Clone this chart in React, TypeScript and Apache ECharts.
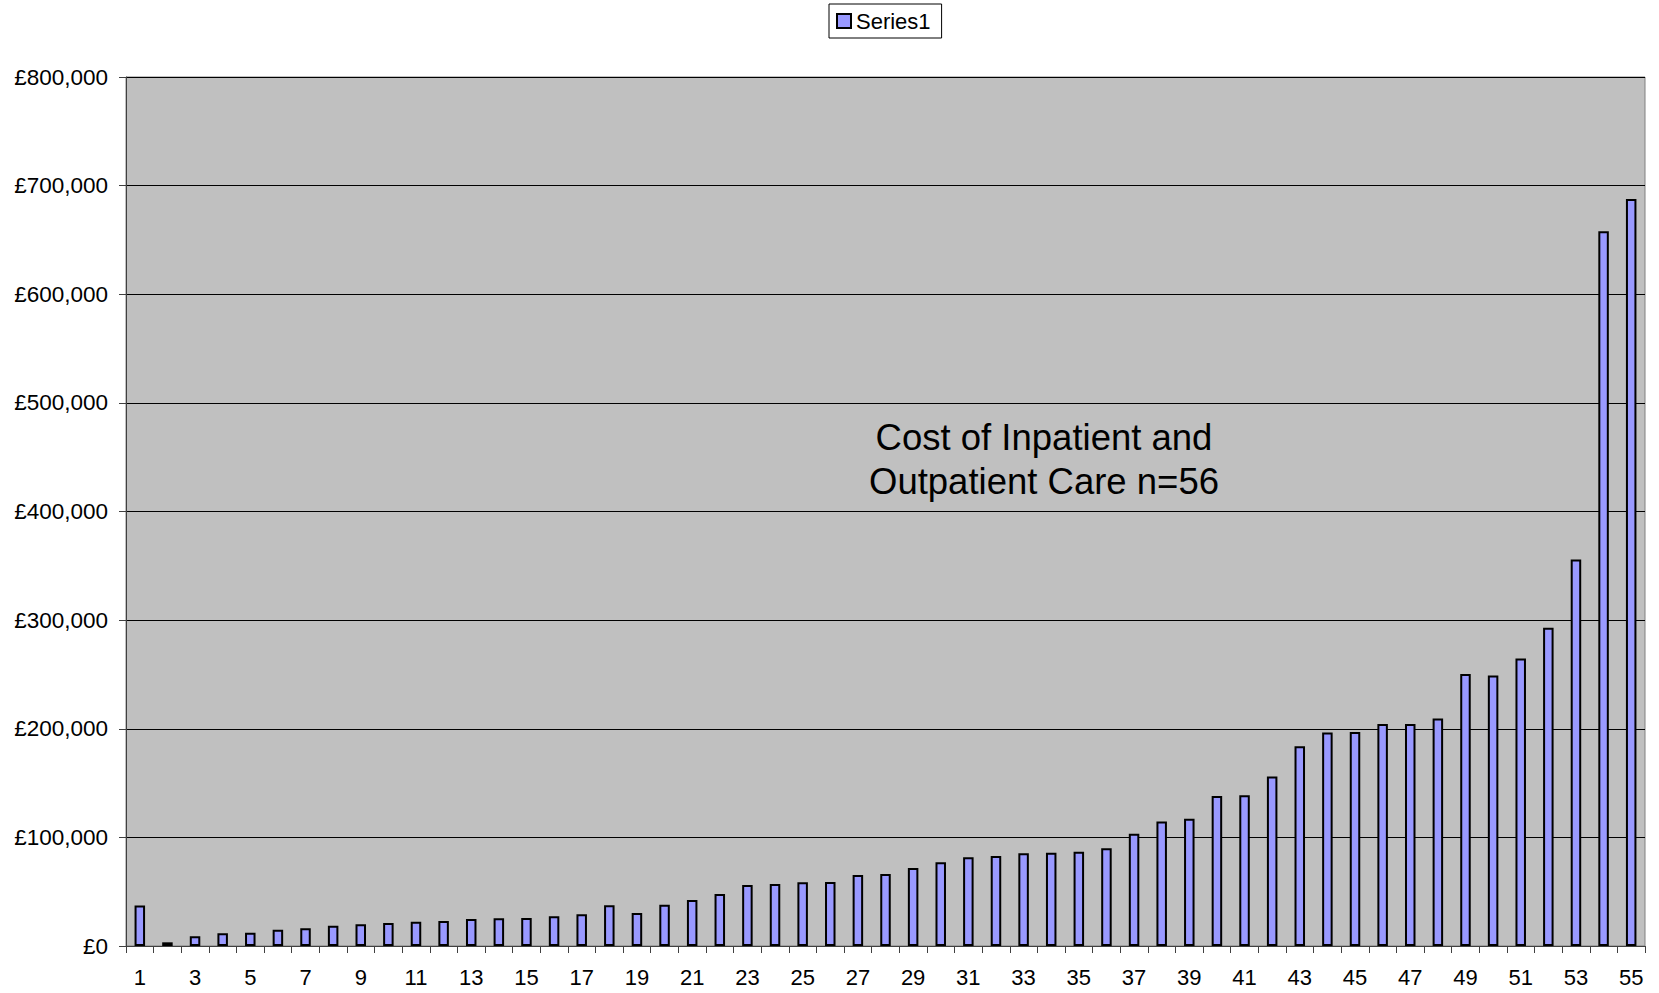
import React, { useEffect, useRef } from "react";
import * as echarts from "echarts";

const categories: string[] = [
  "1","2","3","4","5","6","7","8","9","10","11","12","13","14","15","16","17","18","19","20",
  "21","22","23","24","25","26","27","28","29","30","31","32","33","34","35","36","37","38","39","40",
  "41","42","43","44","45","46","47","48","49","50","51","52","53","54","55",
];

const series1: number[] = [
  37200, 3400, 8900, 11700, 12300, 15000, 16300, 18700, 20000, 21200,
  22400, 23000, 24900, 25500, 25800, 27300, 29200, 37500, 30400, 38000,
  42400, 47900, 56200, 57100, 58600, 58900, 65400, 66300, 71800, 77000,
  81600, 82800, 85300, 85900, 86800, 89900, 103400, 114700, 117200, 138200,
  138800, 156000, 183900, 196500, 197000, 204400, 204400, 209400, 250500, 249000,
  264700, 292900, 355800, 657900, 687600,
];

const seriesName = "Series1";
const annotation = "Cost of Inpatient and\nOutpatient Care n=56";
const yMax = 800000;
const yStep = 100000;

const FONT = "'Liberation Sans', Arial, Helvetica, sans-serif";

function fmtPounds(v: number): string {
  const s = Math.round(v).toString();
  return "£" + s.replace(/\B(?=(\d{3})+(?!\d))/g, ",");
}

export default function App() {
  const ref = useRef<HTMLDivElement>(null);

  useEffect(() => {
    if (!ref.current) return;
    const chart = echarts.init(ref.current, null, { renderer: "svg" });
    chart.setOption({
      animation: false,
      backgroundColor: "#ffffff",
      textStyle: { fontFamily: FONT },
      legend: {
        data: [seriesName],
        left: 829,
        top: 4,
        orient: "horizontal",
        backgroundColor: "#ffffff",
        borderColor: "#000000",
        borderWidth: 1,
        borderRadius: 0,
        padding: [6, 11, 6, 7],
        itemWidth: 14,
        itemHeight: 14,
        icon: "rect",
        textStyle: { fontFamily: FONT, fontSize: 22, color: "#000", lineHeight: 22 },
      },
      grid: {
        left: 126,
        right: 14,
        top: 77,
        bottom: 47,
        show: true,
        backgroundColor: "#C0C0C0",
        borderColor: "#808080",
        borderWidth: 1,
        containLabel: false,
      },
      xAxis: {
        type: "category",
        data: categories,
        boundaryGap: true,
        axisLine: { show: true, lineStyle: { color: "#404040", width: 1 } },
        axisTick: { show: true, interval: 0, length: 7, lineStyle: { color: "#404040" } },
        axisLabel: {
          interval: 1,
          margin: 20,
          fontFamily: FONT,
          fontSize: 22,
          color: "#000",
        },
        splitLine: { show: false },
      },
      yAxis: {
        type: "value",
        min: 0,
        max: yMax,
        interval: yStep,
        axisLine: { show: true, lineStyle: { color: "#404040", width: 1 } },
        axisTick: { show: true, length: 7, lineStyle: { color: "#404040" } },
        axisLabel: {
          margin: 18,
          fontFamily: FONT,
          fontSize: 22.5,
          color: "#000",
          formatter: (v: number) => fmtPounds(v),
        },
        splitLine: { show: true, lineStyle: { color: "#000000", width: 1 } },
      },
      graphic: [
        {
          type: "text",
          x: 1044,
          y: 459,
          silent: true,
          style: {
            text: annotation,
            fill: "#000",
            font: `36.5px ${FONT}`,
            lineHeight: 44,
            textAlign: "center",
            textVerticalAlign: "middle",
          },
        },
      ],
      series: [
        {
          name: seriesName,
          type: "bar",
          data: series1,
          barWidth: 10.5,
          itemStyle: {
            color: "#9999FF",
            borderColor: "#000000",
            borderWidth: 2,
          },
        },
      ],
    });
    return () => chart.dispose();
  }, []);

  return (
    <div
      ref={ref}
      style={{ position: "absolute", left: 0, top: 0, width: 1659, height: 993 }}
    />
  );
}
